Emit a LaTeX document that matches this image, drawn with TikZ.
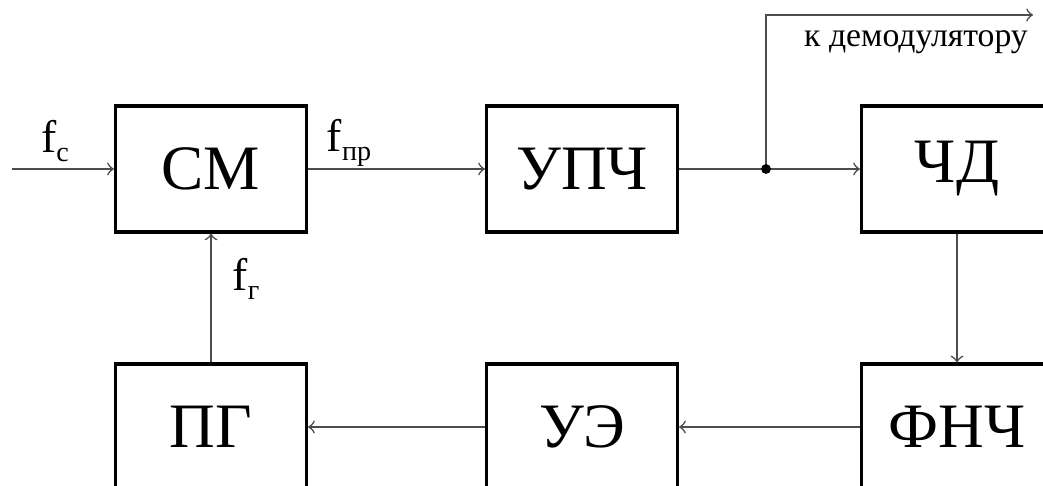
\documentclass[tikz,border=0pt]{standalone}
\usepackage{fontspec}
\setmainfont{Liberation Serif}
\tikzset{b/.style={rectangle,draw,line width=0.9pt,minimum width=1.91cm,minimum height=1.26cm,inner sep=0pt,font=\fontsize{18}{20}\selectfont}}
\tikzset{l/.style={draw=none,inner sep=0pt,font=\fontsize{13}{14}\selectfont}}
\tikzset{a/.style={black!70,line width=0.45pt,->,>=to}}
\newcommand{\lowidx}[1]{\raisebox{-0.45ex}{\fontsize{8}{9}\selectfont #1}}

\begin{document}
\begin{tikzpicture}
  \useasboundingbox (0,0) rectangle (10.43,4.86);
      \node[b] (CM) at (2.11,3.17) {СМ};
      \node[b] (UPCh) at (5.82,3.17) {УПЧ};
      \node[b] (ChD) at (9.57,3.17) {ЧД};
      \node[b] (PG) at (2.11,0.59) {ПГ};
      \node[b] (UE) at (5.82,0.59) {УЭ};
      \node[b] (FNCh) at (9.57,0.59) {ФНЧ};
      \coordinate (in) at (0.12,3.17);
      \coordinate (br) at (7.66,3.17);
      \coordinate (out) at (10.33,4.71);
      \node[l] (fc) at (0.55,3.45) {f\lowidx{с}};
      \node[l] (fpr) at (3.49,3.43) {f\lowidx{пр}};
      \node[l] (fg) at (2.46,2.07) {f\lowidx{г}};
      \node[l,font=\fontsize{9.6}{10}\selectfont] (dem) at (9.16,4.44) {к демодулятору};
      \draw[a] (in) -- (CM);
      \draw[a] (CM) -- (UPCh);
      \draw[a,-] (UPCh) -- (br);
      \draw[a] (br) -- (ChD);
      \draw[a] (br) |- (out);
      \fill (br) circle (1.4pt);
      \draw[a] (ChD) -- (FNCh);
      \draw[a] (FNCh) -- (UE);
      \draw[a] (UE) -- (PG);
      \draw[a] (PG) -- (CM);
    \end{tikzpicture}
\end{document}
